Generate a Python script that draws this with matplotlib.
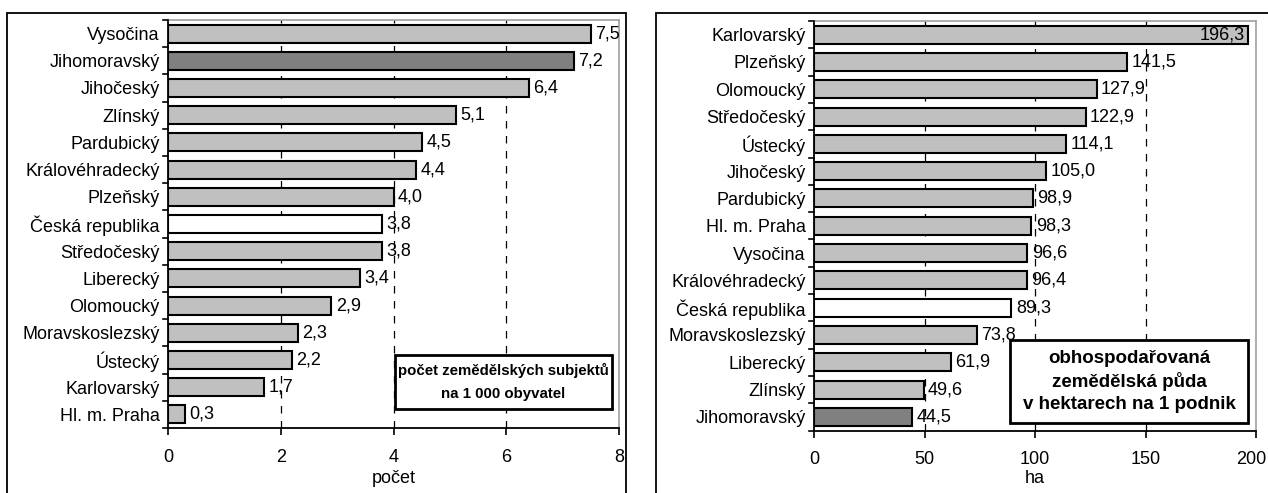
import matplotlib
matplotlib.use("Agg")
import matplotlib.pyplot as plt
import matplotlib.transforms as mtransforms
from matplotlib.patches import Rectangle

plt.rcParams['font.family'] = ['Liberation Sans', 'DejaVu Sans']

# ---- data ----
left_regions = ["Vysočina", "Jihomoravský", "Jihočeský", "Zlínský", "Pardubický",
                "Královéhradecký", "Plzeňský", "Česká republika", "Středočeský",
                "Liberecký", "Olomoucký", "Moravskoslezský", "Ústecký",
                "Karlovarský", "Hl. m. Praha"]
left_values = [7.5, 7.2, 6.4, 5.1, 4.5, 4.4, 4.0, 3.8, 3.8, 3.4, 2.9, 2.3, 2.2, 1.7, 0.3]
left_ticks = [0, 2, 4, 6, 8]
left_xlabel = "počet"
left_note = "počet zemědělských subjektů\nna 1 000 obyvatel"

right_regions = ["Karlovarský", "Plzeňský", "Olomoucký", "Středočeský", "Ústecký",
                 "Jihočeský", "Pardubický", "Hl. m. Praha", "Vysočina",
                 "Královéhradecký", "Česká republika", "Moravskoslezský",
                 "Liberecký", "Zlínský", "Jihomoravský"]
right_values = [196.3, 141.5, 127.9, 122.9, 114.1, 105.0, 98.9, 98.3, 96.6, 96.4,
                89.3, 73.8, 61.9, 49.6, 44.5]
right_ticks = [0, 50, 100, 150, 200]
right_xlabel = "ha"
right_note = "obhospodařovaná\nzemědělská půda\nv hektarech na 1 podnik"

W, H = 1268, 493
fig = plt.figure(figsize=(W / 100, H / 100), dpi=100)

def color_for(name):
    if name == "Jihomoravský":
        return "#808080"
    if name == "Česká republika":
        return "#ffffff"
    return "#c0c0c0"

def fmt(v):
    return f"{v:.1f}".replace(".", ",")

def draw_panel(rect_px, regions, values, ticks, xlabel, xlabelpad, note, note_box,
               note_size, note_spacing, inside_idx=None, last_shift=0):
    x0, y0, x1, y1 = rect_px
    ax = fig.add_axes([x0 / W, 1 - y1 / H, (x1 - x0) / W, (y1 - y0) / H])
    n = len(regions)
    ypos = list(range(n))
    ax.barh(ypos, values, height=0.66, color=[color_for(r) for r in regions],
            edgecolor="black", linewidth=1.5, zorder=3)
    ax.set_ylim(n - 0.5, -0.5)
    ax.set_xlim(ticks[0], ticks[-1])
    ax.set_xticks(ticks)
    ax.set_xticklabels([str(t) for t in ticks], fontsize=13)
    ax.set_yticks(ypos)
    ax.set_yticklabels(regions, fontsize=13)
    ax.tick_params(axis="y", length=0, pad=6)
    ax.tick_params(axis="x", length=5, width=1.2, direction="out", pad=10)
    if last_shift:
        lab = ax.get_xticklabels()[-1]
        lab.set_transform(lab.get_transform() + mtransforms.ScaledTranslation(
            -last_shift / 100, 0, fig.dpi_scale_trans))
    for b in [i - 0.5 for i in range(n + 1)]:
        ax.plot([-0.012, 0], [b, b], transform=ax.get_yaxis_transform(),
                color="black", lw=1.2, clip_on=False, zorder=5)
    for t in ticks[1:-1]:
        ax.axvline(t, color="black", lw=0.9, ls=(0, (6, 6)), zorder=1)
    for s in ["left", "bottom"]:
        ax.spines[s].set_color("black")
        ax.spines[s].set_linewidth(1.3)
    for s in ["top", "right"]:
        ax.spines[s].set_color("#a0a0a0")
        ax.spines[s].set_linewidth(1.2)
    ax.set_xlabel(xlabel, fontsize=13, labelpad=xlabelpad)
    span = ticks[-1] - ticks[0]
    for i, v in enumerate(values):
        if inside_idx is not None and i == inside_idx:
            ax.text(v - span * 0.008, i, fmt(v), va="center", ha="right",
                    fontsize=13, zorder=4)
        else:
            ax.text(v + span * 0.010, i, fmt(v), va="center", ha="left",
                    fontsize=13, zorder=4)
    bx0, by0, bx1, by1 = note_box
    fig.patches.append(Rectangle((bx0 / W, 1 - by1 / H), (bx1 - bx0) / W, (by1 - by0) / H,
                                 transform=fig.transFigure, facecolor="white",
                                 edgecolor="black", lw=2, zorder=10))
    fig.text((bx0 + bx1) / 2 / W, 1 - (by0 + by1) / 2 / H, note, ha="center",
             va="center", fontsize=note_size, fontweight="bold",
             linespacing=note_spacing, zorder=11)
    return ax

# outer frames
fig.patches.append(Rectangle((7 / W, -0.1), (626 - 7) / W, 1 - 13 / H + 0.1,
                             transform=fig.transFigure, facecolor="none",
                             edgecolor="black", lw=1.3))
fig.patches.append(Rectangle((656 / W, -0.1), 0.6, 1 - 13 / H + 0.1,
                             transform=fig.transFigure, facecolor="none",
                             edgecolor="black", lw=1.3))

draw_panel((168, 20, 619, 428), left_regions, left_values, left_ticks, left_xlabel, 3,
           left_note, (395, 355, 612, 409), 10.8, 1.75)
draw_panel((814, 21, 1256, 430.5), right_regions, right_values, right_ticks,
           right_xlabel, 1, right_note, (1010, 340, 1248, 423), 13.5, 1.35,
           inside_idx=0, last_shift=5)

fig.savefig("out.png", dpi=100)
